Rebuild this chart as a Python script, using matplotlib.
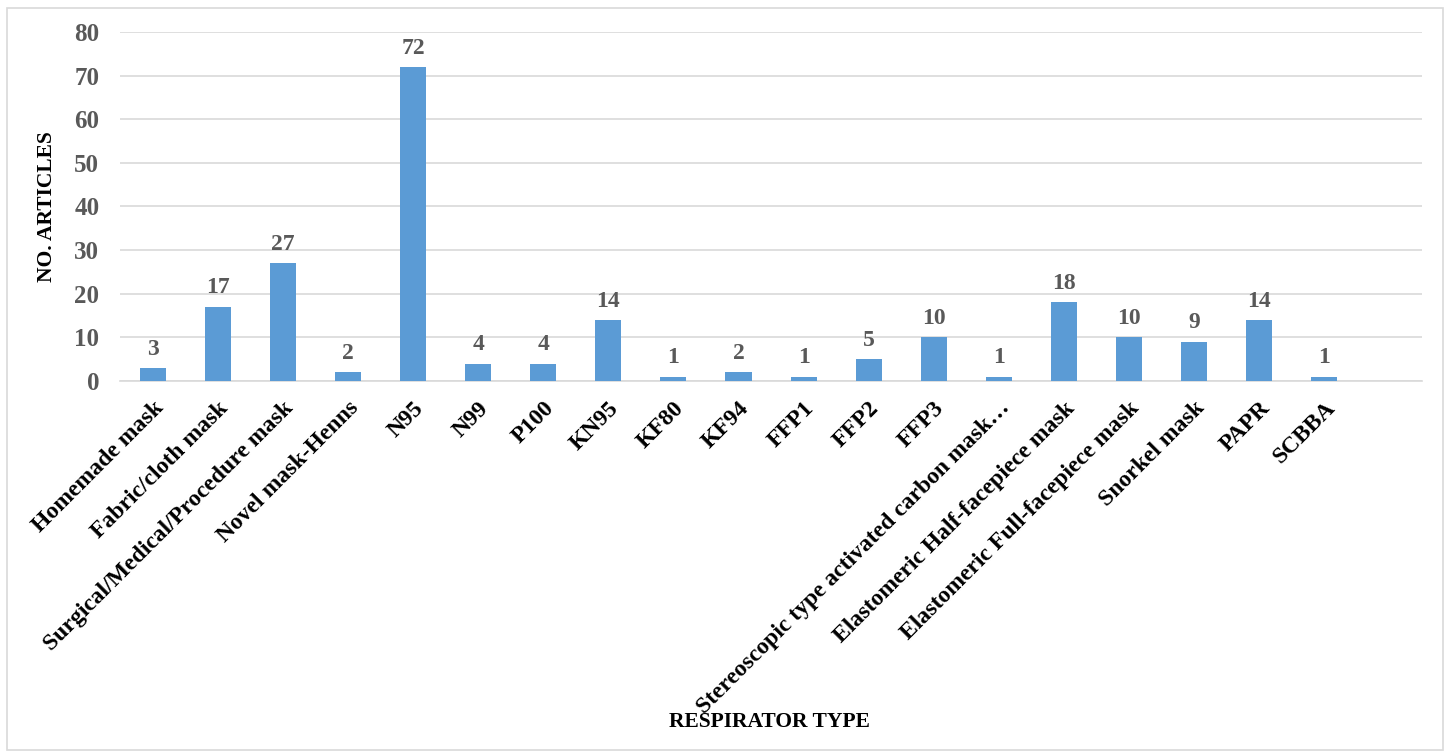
import matplotlib.pyplot as plt
from matplotlib.patches import Rectangle

plt.rcParams['font.family'] = ['Liberation Serif', 'DejaVu Serif']
plt.rcParams['font.weight'] = 'bold'

# respirator types and article counts
types = ['Homemade mask', 'Fabric/cloth mask', 'Surgical/Medical/Procedure mask',
         'Novel mask-Henns', 'N95', 'N99', 'P100', 'KN95', 'KF80', 'KF94',
         'FFP1', 'FFP2', 'FFP3', 'Stereoscopic type activated carbon mask…',
         'Elastomeric Half-facepiece mask', 'Elastomeric Full-facepiece mask',
         'Snorkel mask', 'PAPR', 'SCBBA']
counts = [3, 17, 27, 2, 72, 4, 4, 14, 1, 2, 1, 5, 10, 1, 18, 10, 9, 14, 1]
yticks = [0, 10, 20, 30, 40, 50, 60, 70, 80]

bar_color = '#5B9BD5'
grid_color = '#D9D9D9'
label_gray = '#595959'

fig = plt.figure(figsize=(14.47, 7.55), dpi=100)
ax = fig.add_axes([0.083, 0.4954, 0.8997, 0.4622])

x = list(range(len(types)))
bars = ax.bar(x, counts, width=0.4, color=bar_color, zorder=3)

for bar, c in zip(bars, counts):
    ax.annotate(str(c), (bar.get_x() + bar.get_width() / 2, c),
                xytext=(0, 6), textcoords='offset points',
                ha='center', va='bottom', fontsize=17, fontweight='bold',
                color=label_gray)

ax.set_xlim(-0.5, len(types) + 0.5)
ax.set_ylim(0, 80)
ax.set_yticks(yticks)
ax.yaxis.grid(True, color=grid_color, linewidth=1.2, zorder=0)
ax.set_axisbelow(True)

for s in ['top', 'right', 'left']:
    ax.spines[s].set_visible(False)
ax.spines['bottom'].set_color(grid_color)
ax.spines['bottom'].set_linewidth(1.2)

ax.tick_params(axis='both', length=0)
ax.tick_params(axis='y', labelsize=18, labelcolor=label_gray, pad=15)
ax.set_xticks(x)
ax.set_xticklabels(types, rotation=45, ha='right', rotation_mode='anchor',
                   fontsize=17, fontweight='bold', color='black')
ax.tick_params(axis='x', pad=12)

ax.set_ylabel('NO. ARTICLES', fontsize=15.5, fontweight='bold', labelpad=12)
fig.text(0.532, 0.044, 'RESPIRATOR TYPE', ha='center', va='center',
         fontsize=15.5, fontweight='bold')

# light frame round the whole chart
fig.patches.append(Rectangle((0.005, 0.006), 0.992, 0.983, transform=fig.transFigure,
                             fill=False, edgecolor='#D9D9D9', linewidth=1.2))

fig.savefig('out.png', dpi=100)
